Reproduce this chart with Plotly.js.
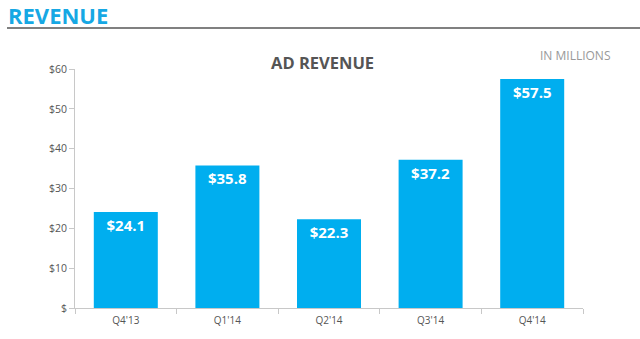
<!DOCTYPE html>
<html><head><meta charset="utf-8">
<script src="https://cdn.plot.ly/plotly-3.0.1.min.js"></script>
<style>html,body{margin:0;padding:0;background:#fff;}#chart{width:640px;height:339px;}</style>
</head><body><div id="chart"></div>
<script>
const quarters = ["Q4'13", "Q1'14", "Q2'14", "Q3'14", "Q4'14"];
const adRevenue = [24.1, 35.8, 22.3, 37.2, 57.5];
const yTickVals = [0, 10, 20, 30, 40, 50, 60];
const yTickText = ["$", "$10", "$20", "$30", "$40", "$50", "$60"];

const PW = 508, PH = 239, L = 75, T = 69;
const px = x => (x - L) / PW;
const py = y => 1 + (T - y) / PH;

const trace = {
  type: 'bar',
  x: quarters,
  y: adRevenue,
  marker: {color: '#00AEEF'},
  text: adRevenue.map(v => '$' + v.toFixed(1)),
  textposition: 'inside',
  insidetextanchor: 'end',
  textangle: 0,
  textfont: {family: 'Open Sans, sans-serif', size: 15, color: '#ffffff', weight: 'bold'},
  hoverinfo: 'none'
};

const layout = {
  width: 640, height: 339,
  margin: {l: L, r: 640 - L - PW, t: T, b: 339 - T - PH},
  paper_bgcolor: '#ffffff', plot_bgcolor: '#ffffff',
  bargap: 0.37,
  showlegend: false,
  xaxis: {
    showgrid: false, zeroline: false,
    showline: true, linecolor: '#c8c8c8', linewidth: 1,
    ticks: 'outside', tickson: 'boundaries', ticklen: 5, tickcolor: '#c8c8c8',
    ticklabelstandoff: 3,
    tickfont: {family: 'Open Sans, sans-serif', size: 10, color: '#555'}
  },
  yaxis: {
    range: [0, 60],
    tickvals: yTickVals, ticktext: yTickText,
    showgrid: false, zeroline: false,
    showline: true, linecolor: '#c8c8c8', linewidth: 1,
    ticks: 'outside', ticklen: 5, tickcolor: '#c8c8c8',
    tickfont: {family: 'Open Sans, sans-serif', size: 10.5, color: '#555'}
  },
  annotations: [
    {text: '<b>REVENUE</b>', xref: 'paper', yref: 'paper', x: px(6), y: py(15),
     xanchor: 'left', yanchor: 'middle', showarrow: false,
     font: {family: 'Open Sans, sans-serif', size: 22, color: '#16A8E4'}},
    {text: '<b>AD REVENUE</b>', xref: 'paper', yref: 'paper', x: px(322), y: py(62),
     xanchor: 'center', yanchor: 'middle', showarrow: false,
     font: {family: 'Open Sans, sans-serif', size: 16.5, color: '#555555'}},
    {text: 'IN MILLIONS', xref: 'paper', yref: 'paper', x: px(575), y: py(56),
     xanchor: 'center', yanchor: 'middle', showarrow: false,
     font: {family: 'Open Sans, sans-serif', size: 12, color: '#999999'}}
  ],
  shapes: [
    {type: 'line', xref: 'paper', yref: 'paper', x0: px(7), x1: px(640), y0: py(28), y1: py(28),
     line: {color: '#808080', width: 2}}
  ]
};

Plotly.newPlot('chart', [trace], layout, {displayModeBar: false, staticPlot: true});
</script></body></html>
